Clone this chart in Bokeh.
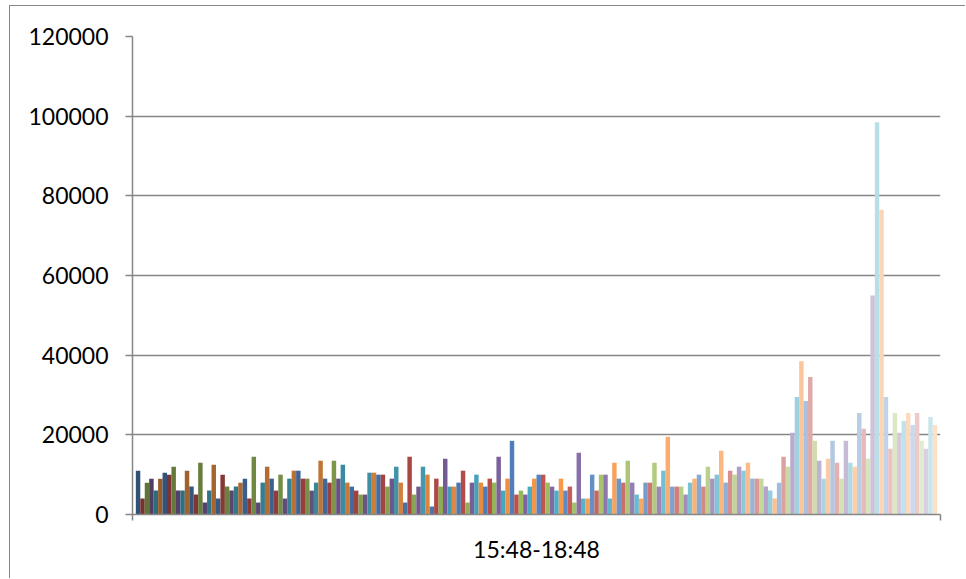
from bokeh.plotting import figure
from bokeh.models import ColumnDataSource, FixedTicker, Range1d, NumeralTickFormatter
from bokeh.embed import file_html
from bokeh.resources import INLINE

# One category, 180 series (one column each)
category = "15:48-18:48"
values = [
    11000, 4000, 8000, 9000, 6000, 9000,
    10500, 10000, 12000, 6000, 6000, 11000,
    7000, 5000, 13000, 3000, 6000, 12500,
    4000, 10000, 7000, 6000, 7000, 8000,
    9000, 4000, 14500, 3000, 8000, 12000,
    9000, 6000, 10000, 4000, 9000, 11000,
    11000, 9000, 9000, 6000, 8000, 13500,
    9000, 8000, 13500, 9000, 12500, 8000,
    7000, 6000, 5000, 5000, 10500, 10500,
    10000, 10000, 7000, 9000, 12000, 8000,
    3000, 14500, 5000, 7000, 12000, 10000,
    2000, 9000, 7000, 14000, 7000, 7000,
    8000, 11000, 3000, 8000, 10000, 8000,
    7000, 9000, 8000, 14500, 6000, 9000,
    18500, 5000, 6000, 5000, 7000, 9000,
    10000, 10000, 8000, 7000, 6000, 9000,
    6000, 7000, 3000, 15500, 4000, 4000,
    10000, 6000, 10000, 10000, 4000, 13000,
    9000, 8000, 13500, 8000, 5000, 4000,
    8000, 8000, 13000, 7000, 11000, 19500,
    7000, 7000, 7000, 5000, 8000, 9000,
    10000, 7000, 12000, 9000, 10000, 16000,
    8000, 11000, 10000, 12000, 11000, 13000,
    9000, 9000, 9000, 7000, 6000, 4000,
    8000, 14500, 12000, 20500, 29500, 38500,
    28500, 34500, 18500, 13500, 9000, 14000,
    18500, 13000, 9000, 18500, 13000, 12000,
    25500, 21500, 14000, 55000, 98500, 76500,
    29500, 16500, 25500, 20500, 23500, 25500,
    22500, 25500, 18500, 16500, 24500, 22500,
]
y_ticks = [0, 20000, 40000, 60000, 80000, 100000, 120000]

# Office accent colours; each run of six gets darker at the start, lighter at the end
accents = [(0x4F, 0x81, 0xBD), (0xC0, 0x50, 0x4D), (0x9B, 0xBB, 0x59),
           (0x80, 0x64, 0xA2), (0x4B, 0xAC, 0xC6), (0xF7, 0x96, 0x46)]
n = len(values)
cycles = n // len(accents)
mid = (cycles - 1) / 2


def series_color(i):
    r, g, b = accents[i % len(accents)]
    m = (i // len(accents) - mid) / mid
    if m < 0:
        f = 1 + 0.38 * m
        rgb = (r * f, g * f, b * f)
    else:
        t = 0.7 * m
        rgb = (r + (255 - r) * t, g + (255 - g) * t, b + (255 - b) * t)
    return "#%02x%02x%02x" % tuple(int(round(c)) for c in rgb)


gap = 0.75  # half of the 150% gap width, in column widths
xs = [gap + i + 0.5 for i in range(n)]
colors = [series_color(i) for i in range(n)]
x_end = n + 2 * gap

src = ColumnDataSource(dict(x=xs, top=values, color=colors))

FONT = "Lato"
GREY = "#868686"

p = figure(width=956, height=573, output_backend="svg", toolbar_location=None,
           x_range=Range1d(0, x_end), y_range=Range1d(0, 120000),
           min_border_left=122, min_border_right=26, min_border_top=30,
           min_border_bottom=65, outline_line_color=None,
           margin=(5, 0, 0, 9),
           styles={"border-top": "1px solid #868686", "border-left": "1px solid #868686"})

p.vbar(x="x", top="top", width=1.0, color="color", line_color=None, source=src)

p.xgrid.grid_line_color = None
p.ygrid.grid_line_color = GREY
p.ygrid.grid_line_width = 1.5
p.ygrid.ticker = FixedTicker(ticks=y_ticks)

ya = p.yaxis[0]
ya.ticker = FixedTicker(ticks=y_ticks)
ya.formatter = NumeralTickFormatter(format="0")
ya.axis_line_color = GREY
ya.axis_line_width = 1.5
ya.major_tick_line_color = GREY
ya.major_tick_line_width = 1.5
ya.major_tick_out = 7
ya.major_tick_in = 0
ya.minor_tick_line_color = None
ya.major_label_standoff = 17
ya.major_label_text_font = FONT
ya.major_label_text_font_size = "23px"
ya.major_label_text_color = "black"

xa = p.xaxis[0]
xa.ticker = FixedTicker(ticks=[0, x_end])
xa.axis_line_color = GREY
xa.axis_line_width = 1.5
xa.major_tick_line_color = GREY
xa.major_tick_line_width = 1.5
xa.major_tick_out = 6
xa.major_tick_in = 0
xa.minor_tick_line_color = None
xa.major_label_text_font_size = "0px"
xa.major_label_text_color = None
xa.axis_label = category
xa.axis_label_text_font = FONT
xa.axis_label_text_font_size = "23px"
xa.axis_label_text_font_style = "normal"
xa.axis_label_text_color = "black"
xa.axis_label_standoff = 14

open("out.html", "w").write(file_html(p, INLINE))
